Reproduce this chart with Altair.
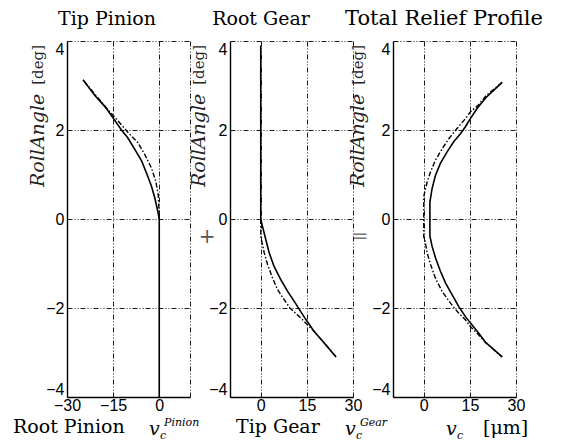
import altair as alt
import pandas as pd

# ---------------- data ----------------
# Panel 1: Tip Pinion
p1_solid_x = [0, 0, -0.4, -1.4, -2.5, -3.9, -5.7, -7.9, -10.3, -12.3, -14.8, -17.6, -21.0, -24.8]
p1_solid_y = [-4, 0, 0.15, 0.46, 0.73, 0.99, 1.30, 1.56, 1.83, 2.00, 2.25, 2.52, 2.78, 3.13]
p1_dash_x = [0, -0.3, -1.1, -2.5, -4.7, -7.0, -10.2, -12.6, -14.5, -16.5, -19.3, -22.6, -24.8]
p1_dash_y = [0, 0.53, 0.84, 1.14, 1.45, 1.72, 1.95, 2.14, 2.29, 2.44, 2.67, 2.94, 3.13]

# Panel 2: Root Gear
p2_solid_x = [0, 0, 0.5, 1.6, 2.7, 4.3, 6.5, 8.7, 10.9, 13.0, 14.7, 17.4, 20.7, 24.5]
p2_solid_y = [3.9, 0, -0.15, -0.45, -0.75, -1.06, -1.36, -1.62, -1.85, -2.08, -2.26, -2.53, -2.79, -3.10]
p2_dash_x = [0, 0, 1.1, 2.2, 3.8, 5.4, 7.6, 9.5, 12.5, 14.7, 17.4, 20.7, 24.5]
p2_dash_y = [0, -0.40, -0.75, -1.02, -1.32, -1.58, -1.81, -2.00, -2.19, -2.34, -2.53, -2.79, -3.10]

# Panel 3: Total Relief Profile
p3_solid_x = [25.5, 20.1, 17.4, 15.2, 13.6, 12.0, 9.8, 7.6, 5.4, 3.8, 2.7, 2.0, 2.0,
              2.0, 2.7, 3.8, 5.4, 7.1, 9.2, 11.4, 13.6, 15.8, 18.0, 20.1, 25.5]
p3_solid_y = [3.07, 2.72, 2.49, 2.26, 2.08, 1.92, 1.74, 1.51, 1.25, 0.98, 0.68, 0.38, 0,
              -0.38, -0.61, -0.87, -1.17, -1.44, -1.70, -1.97, -2.20, -2.39, -2.58, -2.77, -3.10]
p3_dash_x = [25.5, 20.4, 17.6, 15.2, 13.6, 10.9, 8.2, 6.0, 3.8, 2.2, 1.1, 0.3, 0,
             0, 0.3, 1.1, 2.2, 3.8, 6.0, 8.7, 10.9, 13.6, 15.2, 17.8, 20.3, 25.5]
p3_dash_y = [3.07, 2.78, 2.55, 2.41, 2.26, 2.04, 1.81, 1.58, 1.32, 1.06, 0.83, 0.60, 0.50,
             -0.40, -0.45, -0.76, -1.02, -1.33, -1.63, -1.89, -2.08, -2.27, -2.42, -2.60, -2.79, -3.10]

y_ticks = [-4, -2, 0, 2, 4]
p1_x_ticks = [-30, -15, 0, 10]
p23_x_ticks = [0, 15, 30]
p1_domain = [-30, 10]
p23_domain = [-10, 30]

# ---------------- styling ----------------
SERIF = "DejaVu Serif"
SANS = "Liberation Sans"
GRID_DASH = [5, 2, 1, 2, 1, 2]
CURVE_DASH = [5, 2, 1.5, 2]
W, H = 123, 356
BASE = 392  # baseline of the bottom labels, px below the plot top


def curve_df(xs, ys):
    return pd.DataFrame({"x": xs, "y": ys, "i": list(range(len(xs)))})


def txt(t, x, y, size=19, font=SERIF, style="normal", align="left",
        baseline="alphabetic", angle=0, color="black", weight="normal"):
    return alt.Chart(pd.DataFrame({"t": [t]})).mark_text(
        font=font, fontSize=size, fontStyle=style, fontWeight=weight, align=align,
        baseline=baseline, angle=angle, color=color
    ).encode(x=alt.value(x), y=alt.value(y), text="t:N")


def ylabel(x):
    return [
        txt("[deg]", x, 4, size=15, align="right", baseline="middle", angle=270, color="#222222"),
        txt("RollAngle", x, 146, size=19, style="italic", align="left", baseline="middle",
            angle=270, color="#222222"),
    ]


def vsym(x, sup=None):
    out = [txt("v", x, BASE + 2, style="italic"),
           txt("c", x + 11, BASE + 6, size=11, style="italic")]
    if sup:
        out.append(txt(sup, x + 15, BASE - 7, size=11, style="italic"))
    return out


def panel(solid, dashed, xdom, xvals, texts, hide10=False):
    ax_kw = dict(values=xvals, title=None, grid=True, gridDash=GRID_DASH, gridColor="black",
                 gridOpacity=1, gridWidth=0.9, domainColor="black", domainWidth=1.4,
                 ticks=False, labelFont=SANS, labelFontSize=16, labelColor="black",
                 labelPadding=0, labelFlush=False, labelOverlap=False)
    if hide10:
        ax_kw["labelExpr"] = "datum.value == 10 ? '' : datum.label"
    xaxis = alt.Axis(**ax_kw)
    yaxis = alt.Axis(values=y_ticks, title=None, grid=True, gridDash=GRID_DASH, gridColor="black",
                     gridOpacity=1, gridWidth=0.9, domainColor="black", domainWidth=1.4,
                     ticks=False, labelFont=SANS, labelFontSize=16, labelColor="black",
                     labelPadding=3, labelFlush=True, labelFlushOffset=0, labelOverlap=False)
    xs = alt.Scale(domain=xdom, nice=False, zero=False)
    ys = alt.Scale(domain=[-4, 4], nice=False, zero=False)
    enc = dict(x=alt.X("x:Q", scale=xs, axis=xaxis), y=alt.Y("y:Q", scale=ys, axis=yaxis),
               order=alt.Order("i:Q"))
    sol = alt.Chart(solid).mark_line(color="black", strokeWidth=1.6).encode(**enc)
    das = alt.Chart(dashed).mark_line(color="black", strokeWidth=1.4,
                                      strokeDash=CURVE_DASH).encode(**enc)
    return alt.layer(sol, das, *texts).properties(width=W, height=H)


p1 = panel(
    curve_df(p1_solid_x, p1_solid_y), curve_df(p1_dash_x, p1_dash_y), p1_domain, p1_x_ticks,
    [txt("Tip Pinion", 40, -16, align="center")] + ylabel(-29)
    + [txt("Root Pinion", -54, BASE)] + vsym(82, "Pinion"),
    hide10=True,
)

p2 = panel(
    curve_df(p2_solid_x, p2_solid_y), curve_df(p2_dash_x, p2_dash_y), p23_domain, p23_x_ticks,
    [txt("Root Gear", 31, -16, align="center")] + ylabel(-31) + [
        txt("+", -23, 196, size=20, align="center", baseline="middle", color="#555555"),
        txt("Tip Gear", 6, BASE),
    ] + vsym(115, "Gear"),
)

p3 = panel(
    curve_df(p3_solid_x, p3_solid_y), curve_df(p3_dash_x, p3_dash_y), p23_domain, p23_x_ticks,
    [txt("Total Relief Profile", 51, -16, size=21, align="center")] + ylabel(-35) + [
        txt("=", -33, 196, size=20, align="center", baseline="middle", color="#777777"),
        txt("[μm]", 90, BASE + 1),
    ] + vsym(53),
)

chart = alt.hconcat(p1, p2, p3, spacing=40, bounds="flush").properties(
    autosize=alt.AutoSizeParams(type="none"),
    padding={"left": 67, "top": 41, "right": 495, "bottom": 400},
    background="white",
).configure_view(stroke=None)

chart.save("out.html", embed_options={"renderer": "svg", "actions": False})
